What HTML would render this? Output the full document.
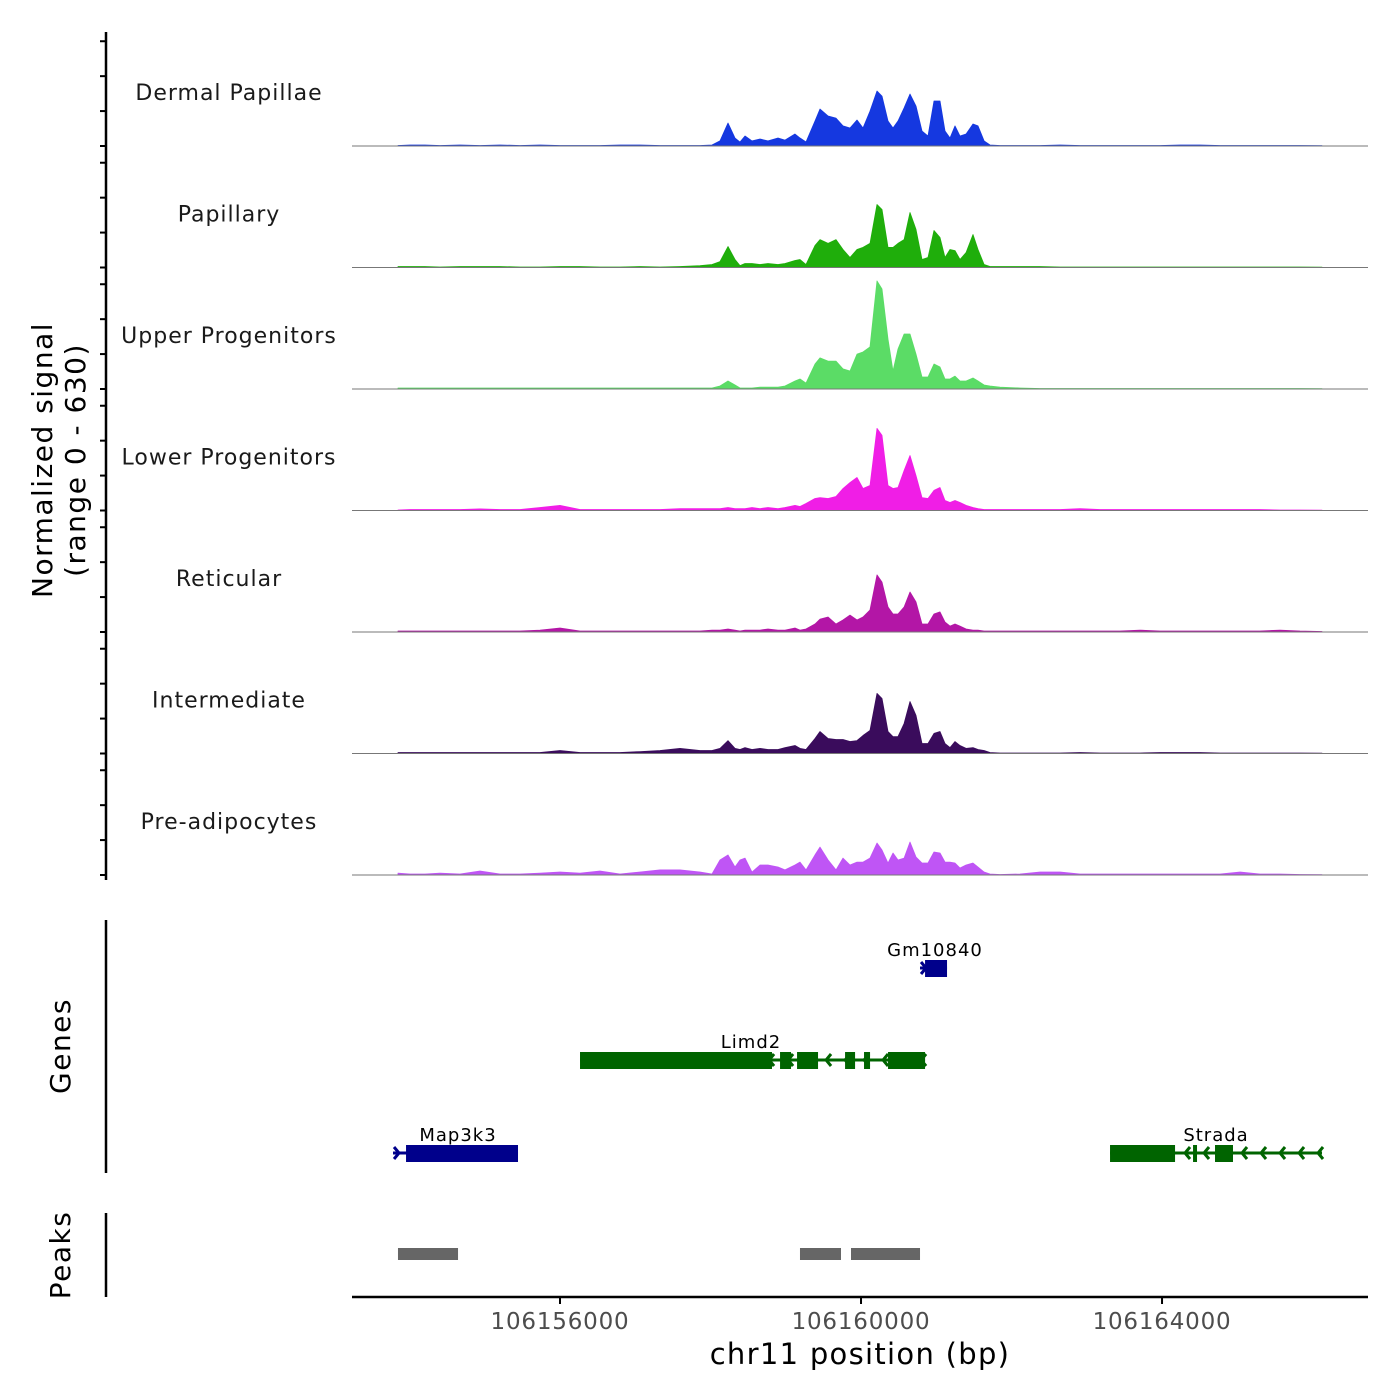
<!DOCTYPE html>
<html><head><meta charset="utf-8"><style>
html,body{margin:0;padding:0;background:#fff;}
svg{display:block;font-family:"DejaVu Sans","Liberation Sans",sans-serif;}
</style></head><body>
<svg id="chart" width="1400" height="1400" viewBox="0 0 1400 1400" xmlns="http://www.w3.org/2000/svg"></svg>
<script>
const trackNames = ["Dermal Papillae","Papillary","Upper Progenitors","Lower Progenitors","Reticular","Intermediate","Pre-adipocytes"];
const trackColors = ["#1538e0","#1fae0b","#5bdc66","#f01ee6","#b316a6","#3a0c5c","#bf55f5"];
const positions = [106153847,106154007,106154206,106154405,106154671,106154937,106155203,106155469,106155734,106156000,106156266,106156532,106156797,106157063,106157329,106157595,106157861,
106158020,106158126,106158233,106158326,106158392,106158459,106158552,106158658,106158764,106158897,106158990,106159123,106159189,106159269,106159389,106159455,106159562,106159668,106159761,106159854,106159947,106160027,106160120,106160213,106160279,106160359,106160425,106160492,106160572,106160651,106160731,106160811,106160890,106160970,106161050,106161116,106161183,106161249,106161316,106161396,106161488,106161555,106161635,106161714,106161847,
106162113,106162379,106162645,106162910,106163176,106163442,106163708,106163974,106164239,106164505,106164771,106165037,106165302,106165568,106165834,106166126];
const sigDermal = [3,6,6,3,6,3,6,3,6,3,3,3,6,6,3,3,3,
6,29,132,46,23,57,29,40,29,46,34,69,46,23,143,212,172,160,115,103,149,103,200,315,286,143,103,143,218,298,229,86,57,258,258,86,46,115,57,69,126,115,29,6,3,
3,3,6,3,3,3,3,3,6,6,3,3,3,3,3,2];
const sigPapillary = [6,6,6,3,6,6,6,3,3,6,6,3,3,6,3,6,11,
17,34,120,46,11,23,23,17,23,17,23,40,46,17,126,160,138,160,103,57,103,115,138,361,332,115,115,138,160,315,218,46,57,212,172,57,103,97,46,86,189,103,17,6,6,
6,6,3,3,3,3,3,3,3,3,3,3,3,3,3,2];
const sigUpper = [6,6,6,6,6,6,6,6,6,6,6,6,6,6,6,6,6,
6,17,46,23,6,6,6,11,11,11,17,46,57,34,143,178,160,160,115,103,200,212,241,619,573,286,103,229,315,315,200,69,69,143,126,57,57,74,46,46,63,46,23,17,11,
6,3,3,3,3,3,3,3,3,3,3,3,3,3,3,2];
const sigLower = [3,6,6,6,6,9,6,6,17,29,6,6,6,6,6,11,11,
11,11,17,11,11,11,17,11,17,11,17,29,23,40,69,74,69,80,126,160,189,126,143,470,430,143,126,132,229,315,200,74,69,115,132,57,46,57,46,29,17,11,6,6,6,
6,6,6,11,6,6,6,6,6,6,6,6,6,3,3,2];
const sigReticular = [6,6,6,6,6,6,6,6,11,23,6,6,6,6,6,6,6,
11,11,17,11,6,11,11,11,17,11,11,23,11,17,46,74,86,46,69,97,69,86,126,327,286,143,103,103,143,229,172,46,46,103,115,57,34,46,34,17,11,11,6,6,6,
6,6,6,6,6,6,11,6,6,6,6,6,6,11,6,3];
const sigIntermediate = [6,6,6,6,6,6,6,6,6,17,6,6,6,11,17,29,17,
17,29,74,29,23,34,23,29,23,23,34,46,29,23,86,126,86,80,80,69,74,103,132,344,315,126,97,97,172,298,218,57,57,115,126,57,34,69,46,29,34,23,17,6,3,
3,3,3,6,3,3,3,6,6,6,3,3,3,3,3,2];
const sigPreadipo = [11,6,6,11,6,23,6,6,11,17,11,23,6,17,29,29,17,
6,86,115,46,86,97,17,57,57,46,29,57,74,29,115,160,86,29,97,57,74,74,97,183,143,69,126,86,97,189,103,69,69,132,126,74,74,69,40,57,69,46,17,6,3,
6,17,17,6,6,6,6,6,6,6,6,17,6,6,3,2];
const signals = [sigDermal,sigPapillary,sigUpper,sigLower,sigReticular,sigIntermediate,sigPreadipo];
const yMax = 630;
const yTicks = [0,200,400,600];
const xTicks = [106156000,106160000,106164000];
const xTickLabels = ["106156000","106160000","106164000"];
const geneNames = ["Map3k3","Gm10840","Limd2","Strada"];
const geneStarts = [106153781,106160784,106156266,106163309];
const geneEnds = [106155442,106161143,106160851,106166126];
const geneStrands = ["+","+","-","-"];
const geneRows = [2,0,1,2];
const geneExons = [
 [[106153954,106155442]],
 [[106160851,106161143]],
 [[106156266,106158817],[106158924,106159070],[106159150,106159429],[106159788,106159921],[106160040,106160120],[106160359,106160851]],
 [[106163309,106164173],[106164412,106164465],[106164704,106164943]]
];
const peakStarts = [106153847,106159189,106159867];
const peakEnds = [106154645,106159734,106160784];

const NS="http://www.w3.org/2000/svg";
const svg=document.getElementById('chart');
function mk(tag,attrs,parent){const e=document.createElementNS(NS,tag);for(const k in attrs)e.setAttribute(k,attrs[k]);(parent||svg).appendChild(e);return e;}
const X0=352,X1=1368,BP0=106153236,BP1=106166737;
function xs(bp){return X0+(bp-BP0)/(BP1-BP0)*(X1-X0);}
const trackH=110, base0=146, step=121.5;
function ys(i,v){return base0+i*step - v/yMax*trackH;}

let ax=mk('line',{x1:106,y1:32,x2:106,y2:880,stroke:'#000','stroke-width':2.5});


for(let i=0;i<trackNames.length;i++){
  const g=mk('g',{});
  
  
  yTicks.forEach(t=>{const tk=mk('line',{x1:100,x2:106,y1:ys(i,t),y2:ys(i,t),stroke:'#000','stroke-width':2},g);
    
    });
  let d='M'+xs(positions[0])+','+ys(i,0);
  positions.forEach((p,j)=>{d+=' L'+xs(p).toFixed(1)+','+ys(i,signals[i][j]).toFixed(1);});
  d+=' L'+xs(positions[positions.length-1])+','+ys(i,0)+' Z';
  const a=mk('path',{d:d,fill:trackColors[i],stroke:trackColors[i],'stroke-width':0.8,'stroke-linejoin':'round'},g);
  
  
  const bl=mk('line',{x1:X0,x2:X1,y1:ys(i,0),y2:ys(i,0),stroke:'#777','stroke-width':1},g);
  
  
  const lb=mk('text',{x:229,y:ys(i,0)-46,'text-anchor':'middle','font-size':22,'letter-spacing':'1px',fill:'#1a1a1a'},g);
  lb.textContent=trackNames[i];
  
  
}
const yt=mk('text',{transform:'translate(52,460) rotate(-90)','text-anchor':'middle','font-size':28,'letter-spacing':'1.5px',fill:'#000'});


const t1=mk('tspan',{x:0,dy:0},yt);t1.textContent='Normalized signal';
const t2=mk('tspan',{x:0,dy:33},yt);t2.textContent='(range 0 - 630)';

let ga=mk('line',{x1:106,y1:920,x2:106,y2:1173,stroke:'#000','stroke-width':2.5});


const gt=mk('text',{transform:'translate(70,1046) rotate(-90)','text-anchor':'middle','font-size':28,'letter-spacing':'1.5px',fill:'#000'});
gt.textContent='Genes';


const rowY=[968,1060,1153];
geneNames.forEach((n,k)=>{
  const col=geneStrands[k]==='+'?'#00008b':'#006400';
  const y=rowY[geneRows[k]];
  const g=mk('g',{});
  
  
  const x1=xs(geneStarts[k]),x2=xs(geneEnds[k]);
  mk('line',{x1:x1,x2:x2,y1:y,y2:y,stroke:col,'stroke-width':3},g);
  const dir=geneStrands[k]==='+'?1:-1;
  const chev=[];
  if(dir>0){chev.push(x1+6);} else {for(let x=x2-4;x>x1+20;x-=19)chev.push(x);}
  chev.forEach(cx=>{mk('path',{d:`M${cx-5*dir},${y-6} L${cx},${y} L${cx-5*dir},${y+6}`,fill:'none',stroke:col,'stroke-width':3},g);});
  geneExons[k].forEach(ex=>{
    const r=mk('rect',{x:xs(ex[0]),y:y-8,width:xs(ex[1])-xs(ex[0]),height:17,fill:col},g);
    
    
  });
  const lb=mk('text',{x:(x1+x2)/2,y:y-12,'text-anchor':'middle','font-size':18,'letter-spacing':'1px',fill:'#000'},g);
  if(k===0)lb.setAttribute('x',458);
  if(k===1)lb.setAttribute('x',935);
  if(k===2)lb.setAttribute('x',751);
  if(k===3)lb.setAttribute('x',1216);
  lb.textContent=n;
  
  
});

let pa=mk('line',{x1:106,y1:1213,x2:106,y2:1297,stroke:'#000','stroke-width':2.5});


const pt=mk('text',{transform:'translate(70,1255) rotate(-90)','text-anchor':'middle','font-size':28,'letter-spacing':'1.5px',fill:'#000'});
pt.textContent='Peaks';


peakStarts.forEach((s,k)=>{
  const r=mk('rect',{x:xs(s),y:1248,width:xs(peakEnds[k])-xs(s),height:12,fill:'#666'});
  
  
});

let xa=mk('line',{x1:X0,x2:X1,y1:1297,y2:1297,stroke:'#000','stroke-width':2.5});


xTicks.forEach((t,k)=>{
  const tk=mk('line',{x1:xs(t),x2:xs(t),y1:1297,y2:1304,stroke:'#000','stroke-width':2});
  
  
  const tl=mk('text',{x:xs(t),y:1329,'text-anchor':'middle','font-size':23,'letter-spacing':'0.8px',fill:'#4d4d4d'});
  tl.textContent=xTickLabels[k];
  
  
});
const xt=mk('text',{x:860,y:1364,'text-anchor':'middle','font-size':29,'letter-spacing':'1.3px',fill:'#000'});
xt.textContent='chr11 position (bp)';


</script>
</body></html>
